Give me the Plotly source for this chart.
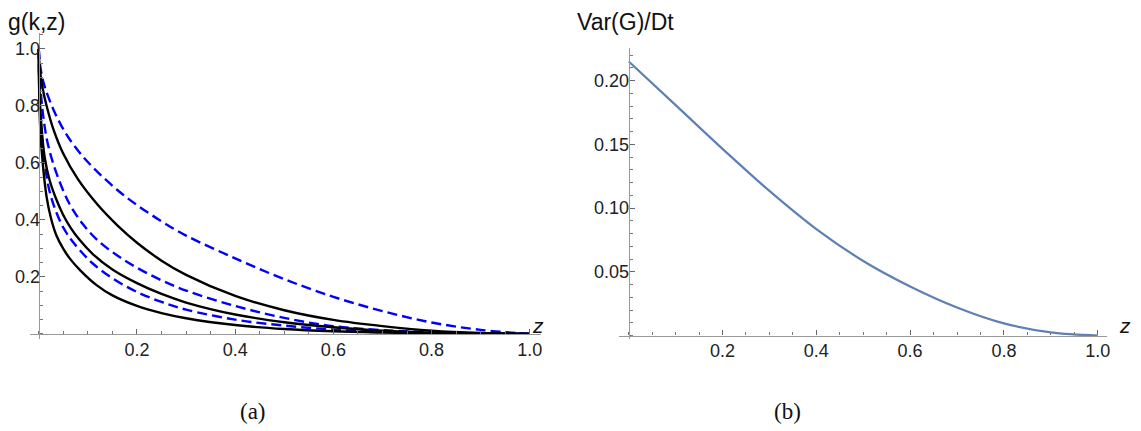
import plotly.graph_objects as go

# panel (a): g(k,z)
z_k1 = [0, 0.002, 0.008, 0.016, 0.03, 0.05, 0.08, 0.12, 0.16, 0.2, 0.25, 0.3, 0.4, 0.5, 0.6, 0.7, 0.8, 0.9, 1.0]
g_k1 = [1.0, 0.93, 0.86, 0.80, 0.717, 0.632, 0.542, 0.453, 0.381, 0.32, 0.257, 0.207, 0.133, 0.083, 0.049, 0.027, 0.011, 0.003, 0.0]

z_k2 = [0, 0.001, 0.005, 0.012, 0.022, 0.035, 0.049, 0.065, 0.083, 0.11, 0.15, 0.2, 0.25, 0.3, 0.4, 0.5, 0.6, 0.7, 0.8, 0.9, 1.0]
g_k2 = [1.0, 0.88, 0.74, 0.62, 0.54, 0.475, 0.42, 0.372, 0.33, 0.28, 0.226, 0.178, 0.14, 0.11, 0.068, 0.041, 0.023, 0.011, 0.004, 0.001, 0.0]

z_k3 = [0, 0.0005, 0.003, 0.008, 0.016, 0.025, 0.036, 0.05, 0.063, 0.085, 0.117, 0.15, 0.2, 0.25, 0.3, 0.4, 0.5, 0.6, 0.7, 0.8, 0.9, 1.0]
g_k3 = [1.0, 0.88, 0.72, 0.6, 0.48, 0.405, 0.345, 0.298, 0.265, 0.222, 0.172, 0.135, 0.098, 0.073, 0.055, 0.031, 0.017, 0.009, 0.0045, 0.0015, 0.0004, 0.0]

z_b1 = [0, 0.003, 0.01, 0.022, 0.04, 0.06, 0.09, 0.12, 0.16, 0.2, 0.25, 0.3, 0.4, 0.5, 0.6, 0.7, 0.8, 0.9, 1.0]
g_b1 = [1.0, 0.94, 0.88, 0.82, 0.75, 0.69, 0.622, 0.568, 0.505, 0.452, 0.395, 0.345, 0.265, 0.192, 0.13, 0.08, 0.04, 0.014, 0.0]

z_b2 = [0, 0.002, 0.008, 0.018, 0.036, 0.063, 0.09, 0.12, 0.16, 0.2, 0.25, 0.3, 0.4, 0.5, 0.6, 0.7, 0.8, 0.9, 1.0]
g_b2 = [1.0, 0.9, 0.78, 0.67, 0.564, 0.455, 0.385, 0.328, 0.275, 0.232, 0.188, 0.152, 0.098, 0.056, 0.027, 0.013, 0.006, 0.0015, 0.0]

z_b3 = [0, 0.001, 0.005, 0.012, 0.022, 0.035, 0.049, 0.065, 0.083, 0.11, 0.15, 0.2, 0.25, 0.3, 0.4, 0.5, 0.6, 0.7, 0.8, 0.9, 1.0]
g_b3 = [1.0, 0.87, 0.72, 0.6, 0.5, 0.43, 0.376, 0.333, 0.295, 0.247, 0.195, 0.147, 0.112, 0.085, 0.05, 0.029, 0.015, 0.007, 0.0025, 0.0006, 0.0]

# panel (b): Var(G)/Dt
z_var = [0, 0.1, 0.2, 0.3, 0.4, 0.5, 0.6, 0.7, 0.8, 0.9, 1.0]
v_var = [0.215, 0.1808, 0.1465, 0.1135, 0.0835, 0.0585, 0.0385, 0.022, 0.0095, 0.0025, 0.0]

# page body has an 8px margin, so pixel positions are shifted by it
OX, OY = 8, 8
W, H = 1141 - OX, 431 - OY


def px(x):
    return (x - OX) / W


def py(y):
    return 1 - (y - OY) / H


fig = go.Figure()

for zz, gg in [(z_b1, g_b1), (z_b2, g_b2), (z_b3, g_b3)]:
    fig.add_trace(go.Scatter(x=zz, y=gg, mode="lines", line=dict(color="#0000ff", width=2.4, dash="10px,5px"),
                             line_shape="spline", xaxis="x", yaxis="y"))
for zz, gg in [(z_k1, g_k1), (z_k2, g_k2), (z_k3, g_k3)]:
    fig.add_trace(go.Scatter(x=zz, y=gg, mode="lines", line=dict(color="black", width=2.4),
                             line_shape="spline", xaxis="x", yaxis="y"))

fig.add_trace(go.Scatter(x=z_var, y=v_var, mode="lines", line=dict(color="#5e81b5", width=2.2),
                         line_shape="spline", xaxis="x2", yaxis="y2"))

tickfont = dict(family="Liberation Sans, Arial", size=18, color="#222")
common = dict(showline=True, linecolor="#999", linewidth=1.2, ticks="inside", tickcolor="#666",
              ticklen=5, tickwidth=1, showgrid=False, zeroline=False, tickfont=tickfont)
minor_x = dict(dtick=0.05, tick0=0, ticks="inside", ticklen=3, tickcolor="#777")
xticks = dict(tickvals=[0.2, 0.4, 0.6, 0.8, 1.0], ticktext=["0.2", "0.4", "0.6", "0.8", "1.0"])

fig.update_layout(
    width=W, height=H, margin=dict(l=0, r=0, t=0, b=0),
    plot_bgcolor="white", paper_bgcolor="white", showlegend=False,
    xaxis=dict(domain=[px(30), px(542)], range=[-0.018, 1.022], anchor="free", position=py(333.9),
               minor=minor_x, ticklabelstandoff=-1, **xticks, **common),
    yaxis=dict(domain=[py(339), py(33)], range=[-0.018, 1.056], anchor="free", position=px(38.9),
               tickvals=[0.2, 0.4, 0.6, 0.8, 1.0], ticktext=["0.2", "0.4", "0.6", "0.8", "1.0"],
               minor=minor_x, ticklabelstandoff=-5, **common),
    xaxis2=dict(domain=[px(621), px(1110)], range=[-0.02, 1.02], anchor="free", position=py(335.5),
                minor=minor_x, ticklabelstandoff=-1, **xticks, **common),
    yaxis2=dict(domain=[py(339.3), py(48.3)], range=[-0.003, 0.2254], anchor="free", position=px(630.4),
                tickvals=[0.05, 0.10, 0.15, 0.20], ticktext=["0.05", "0.10", "0.15", "0.20"],
                minor=dict(dtick=0.01, tick0=0, ticks="inside", ticklen=3, tickcolor="#777"),
                ticklabelstandoff=-4, **common),
)

lab = dict(family="Liberation Sans, Arial", size=23, color="#111")
zlab = dict(family="Liberation Sans, Arial", size=21, color="#111")
serif = dict(family="Liberation Serif, DejaVu Serif", size=23, color="#111")
fig.add_annotation(x=px(7), y=1, xref="paper", yref="paper", text="g(k,z)", showarrow=False,
                   xanchor="left", yanchor="top", borderpad=0, font=lab)
fig.add_annotation(x=px(578), y=1, xref="paper", yref="paper", text="Var(G)/Dt", showarrow=False,
                   xanchor="left", yanchor="top", borderpad=0, font=lab)
fig.add_annotation(x=px(539), y=py(325), xref="paper", yref="paper", text="<i>z</i>", showarrow=False,
                   xanchor="center", yanchor="middle", font=zlab)
fig.add_annotation(x=px(1128), y=py(325), xref="paper", yref="paper", text="<i>z</i>", showarrow=False,
                   xanchor="center", yanchor="middle", font=zlab)
fig.add_annotation(x=px(254), y=py(411), xref="paper", yref="paper", text="(a)", showarrow=False,
                   xanchor="center", yanchor="middle", font=serif)
fig.add_annotation(x=px(790), y=py(411), xref="paper", yref="paper", text="(b)", showarrow=False,
                   xanchor="center", yanchor="middle", font=serif)

fig.write_html("out.html")
